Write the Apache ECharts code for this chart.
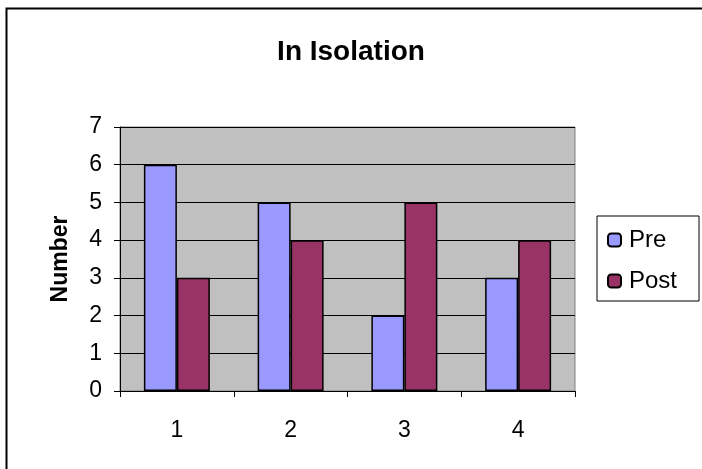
<!DOCTYPE html>
<html>
<head>
<meta charset="utf-8">
<script src="https://cdn.jsdelivr.net/npm/echarts@6/dist/echarts.min.js"></script>
<style>
html,body{margin:0;padding:0;background:#fff;}
#c{width:702px;height:469px;}
</style>
</head>
<body>
<div id="c"></div>
<script>
var categories = ['1', '2', '3', '4'];
var preValues = [6, 5, 2, 3];
var postValues = [3, 4, 5, 4];
var seriesNames = ['Pre', 'Post'];

var FONT = '"Liberation Sans", Arial, sans-serif';
var chart = echarts.init(document.getElementById('c'), null, {renderer: 'canvas'});
chart.setOption({
  backgroundColor: '#ffffff',
  animation: false,
  textStyle: {fontFamily: FONT, color: '#000'},
  title: {
    text: 'In Isolation',
    left: 'center',
    top: 33,
    textStyle: {fontFamily: FONT, fontSize: 28, fontWeight: 'bold', color: '#000'}
  },
  graphic: [{
    type: 'rect',
    shape: {x: 6.5, y: 8.5, width: 720, height: 480},
    style: {fill: 'none', stroke: '#000', lineWidth: 2},
    silent: true,
    z: 100
  }],
  legend: {
    data: seriesNames,
    orient: 'vertical',
    left: 597,
    top: 216,
    borderColor: '#000',
    borderWidth: 1,
    padding: [12, 22, 8, 10],
    itemWidth: 13,
    itemHeight: 13,
    itemGap: 17,
    textStyle: {fontFamily: FONT, fontSize: 24, color: '#000', padding: [0, 0, 0, 3]}
  },
  grid: {
    left: 120, right: 127, top: 127, bottom: 78,
    show: true,
    backgroundColor: '#C0C0C0',
    borderColor: '#808080',
    borderWidth: 1
  },
  xAxis: {
    type: 'category',
    data: categories,
    axisLine: {show: true, lineStyle: {color: '#000', width: 1}},
    axisTick: {show: true, length: 6, lineStyle: {color: '#000'}},
    axisLabel: {fontFamily: FONT, fontSize: 23, color: '#000', margin: 28}
  },
  yAxis: {
    type: 'value',
    min: 0, max: 7, interval: 1,
    name: 'Number',
    nameLocation: 'middle',
    nameGap: 48,
    nameTextStyle: {fontFamily: FONT, fontSize: 23, fontWeight: 'bold', color: '#000'},
    axisLine: {show: true, lineStyle: {color: '#000', width: 1}},
    axisTick: {show: true, length: 6, lineStyle: {color: '#000'}},
    axisLabel: {fontFamily: FONT, fontSize: 23, color: '#000', margin: 18},
    splitLine: {show: true, lineStyle: {color: '#000', width: 1}}
  },
  series: [{
    name: seriesNames[0],
    type: 'bar',
    data: preValues,
    barGap: '0%',
    barCategoryGap: '42%',
    itemStyle: {color: '#9999FF', borderColor: '#000', borderWidth: 1.5}
  }, {
    name: seriesNames[1],
    type: 'bar',
    data: postValues,
    barGap: '0%',
    barCategoryGap: '42%',
    itemStyle: {color: '#993366', borderColor: '#000', borderWidth: 1.5}
  }]
});
</script>
</body>
</html>
